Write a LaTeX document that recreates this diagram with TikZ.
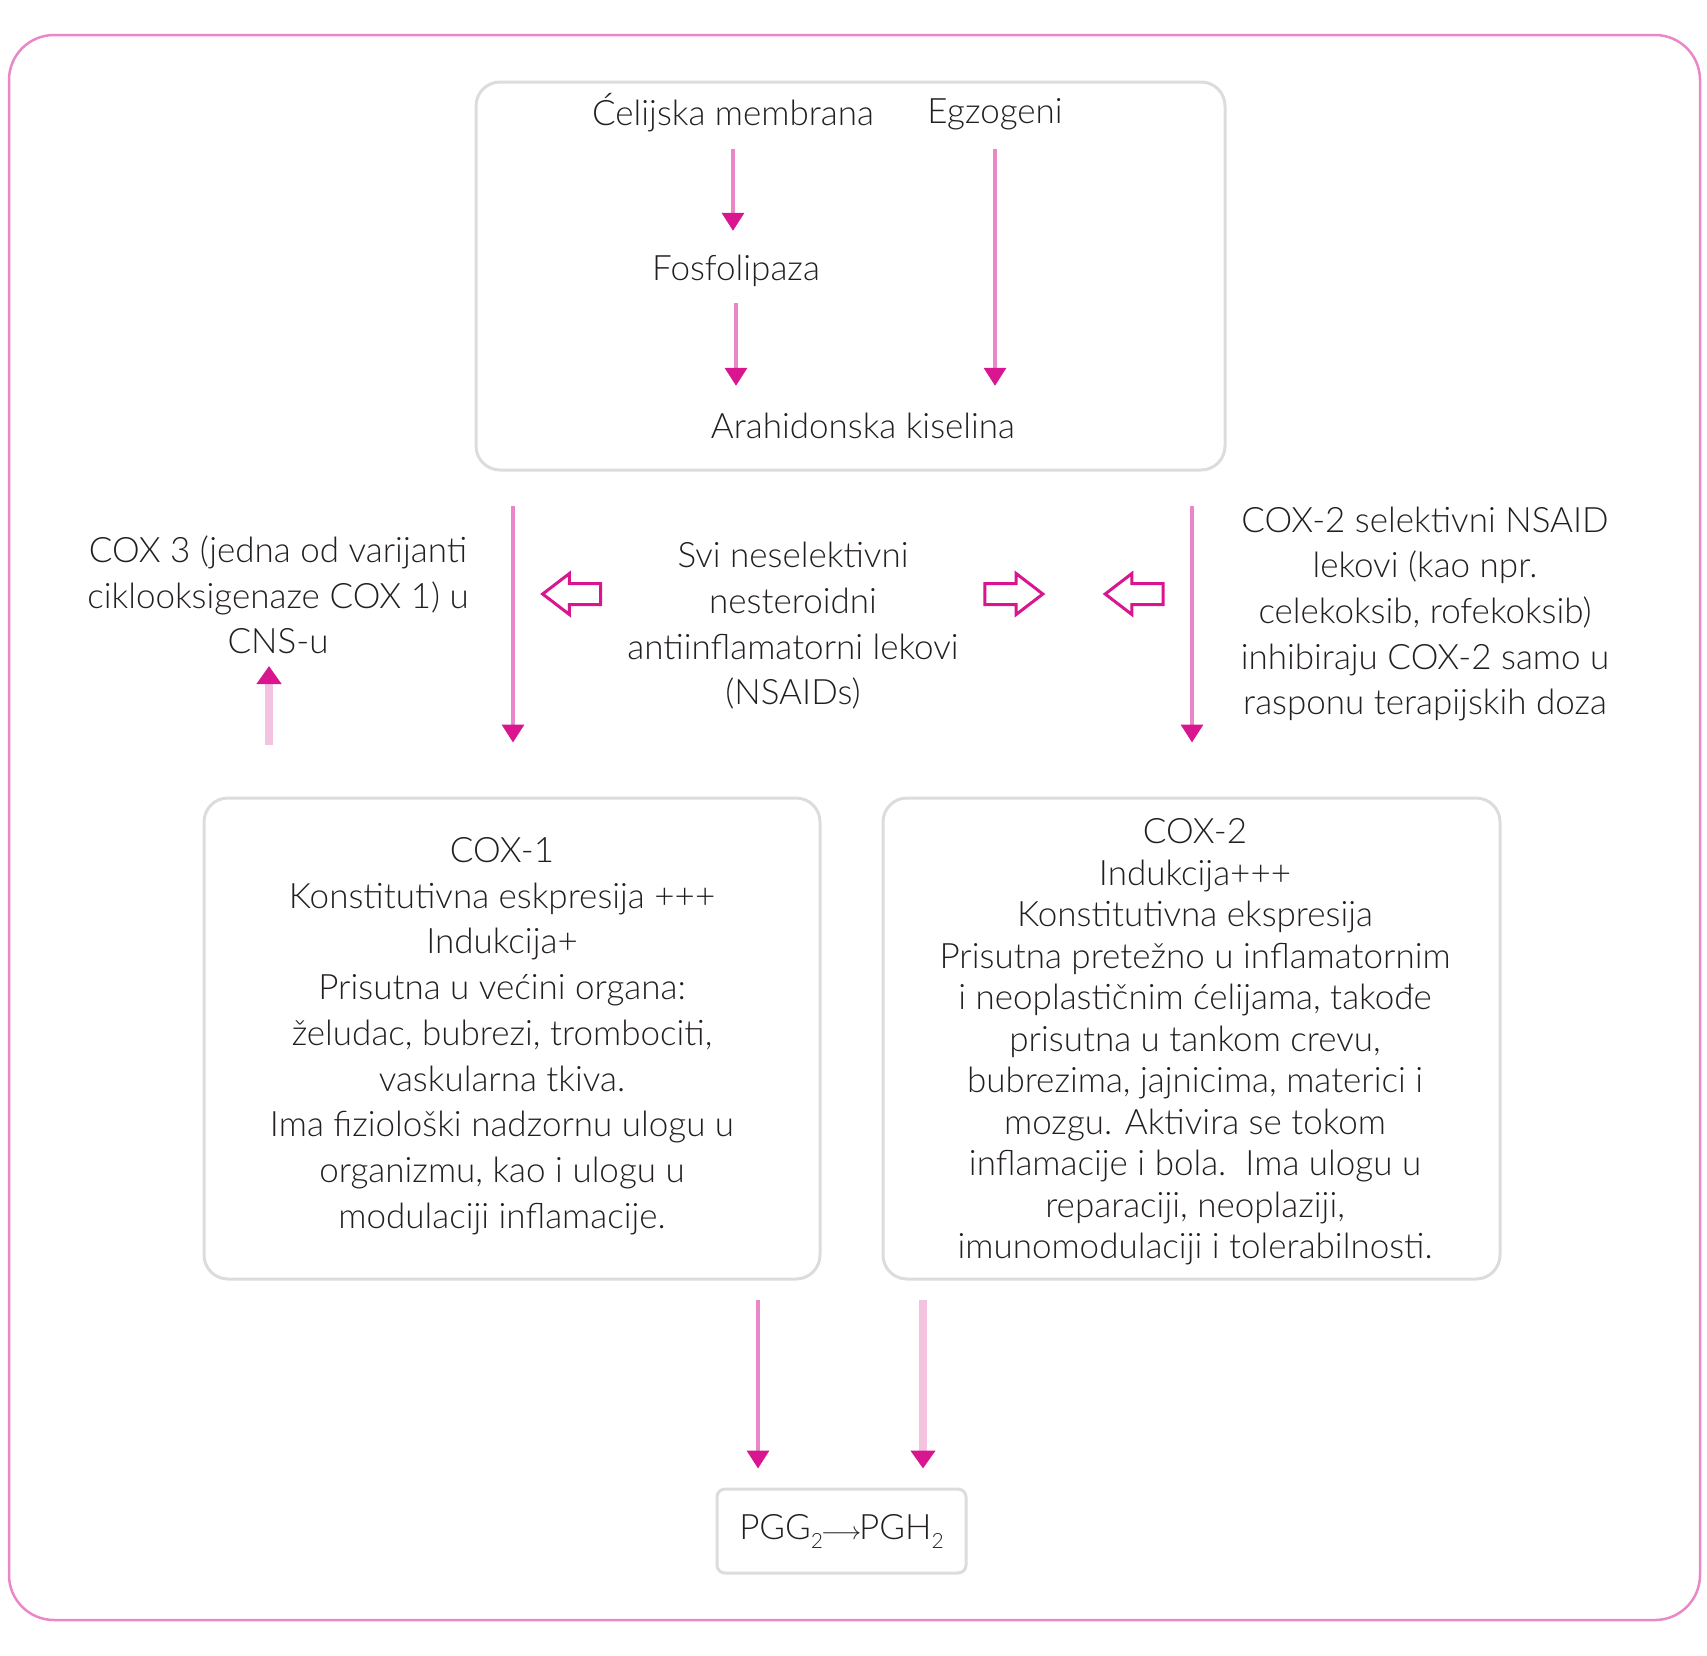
\documentclass[tikz,border=0pt]{standalone}
\usepackage{fontspec}
\setmainfont{Lato Light}
\usetikzlibrary{arrows.meta,shapes.arrows}

\definecolor{framepink}{HTML}{E987C8}
\definecolor{tippink}{HTML}{D9168F}
\definecolor{palepink}{HTML}{F4C3E0}
\definecolor{boxgray}{HTML}{DCDCDC}
\definecolor{txt}{HTML}{231F20}

\tikzset{
    box/.style={draw=boxgray, line width=3, rounded corners=24, text=txt, align=center,
        font=\fontsize{35}{45.7}\selectfont},
    word/.style={text=txt, inner sep=0, text height=24, text depth=8,
        font=\fontsize{35}{45.7}\selectfont},
    para/.style={text=txt, inner sep=0, align=center, font=\fontsize{35}{45.7}\selectfont},
    flow/.style={draw=framepink, line width=3.3, -{Triangle[color=tippink, width=22, length=18]}},
    paleflow/.style={draw=palepink, line width=8, -{Triangle[color=tippink, width=24, length=18]}},
    hollow/.style={single arrow, draw=tippink, line width=3, fill=white, inner sep=9,
        minimum height=58, minimum width=41, single arrow head extend=10, single arrow tip angle=75}
}

\begin{document}
\begin{tikzpicture}[x=1pt, y=-1pt]
    \useasboundingbox (0,0) rectangle (1707,1655);
    \draw[framepink, line width=2.5, rounded corners=45] (9,35) rectangle (1700,1620);

    % upper box
    \node[box, minimum width=749, minimum height=388] (topbox) at (850.5,276) {};
    \node[word] (cm) at (733,117) {Ćelijska membrana};
    \node[word] (egz) at (995,115) {Egzogeni};
    \node[word] (fos) at (736,272) {Fosfolipaza};
    \node[word] (ak) at (863,430) {Arahidonska kiselina};
    \draw[flow, shorten <=16, shorten >=25] (cm.south) -- (cm.south |- fos.north);
    \draw[flow, shorten <=15, shorten >=28] (fos.south) -- (fos.south |- ak.north);
    \draw[flow, shorten <=18, shorten >=28] (egz.south) -- (egz.south |- ak.north);

    % middle row
    \node[para] (cox3) at (278,595) {COX 3 (jedna od varijanti\\ciklooksigenaze COX 1) u\\CNS-u};
    \node[para] (nsaid) at (793,626) {Svi neselektivni\\nesteroidni\\antiinflamatorni lekovi\\(NSAIDs)};
    \node[para] (sel) at (1425,614) {COX-2 selektivni NSAID\\lekovi (kao npr.\\celekoksib, rofekoksib)\\inhibiraju COX-2 samo u\\rasponu terapijskih doza};
    \node[hollow, shape border rotate=180] (ha1) at (578.5,594) {};
    \node[hollow] (ha2) at (1007,594) {};
    \node[hollow, shape border rotate=180] (ha3) at (1141,594) {};

    % enzyme boxes
    \node[box, minimum width=616, minimum height=481] (cox1) at (512,1038.5) {};
    \node[para] (cox1txt) at (502,1036)
        {COX-1\\Konstitutivna eskpresija +++\\Indukcija+\\Prisutna u većini organa:\\želudac, bubrezi, trombociti,\\vaskularna tkiva.\\Ima fiziološki nadzornu ulogu u\\organizmu, kao i ulogu u\\modulaciji inflamacije.};
    \node[box, minimum width=617, minimum height=481] (cox2) at (1191.5,1038.5) {};
    \node[para, font=\fontsize{35}{41.5}\selectfont] (cox2txt) at (1195,1042)
        {COX-2\\Indukcija+++\\Konstitutivna ekspresija\\Prisutna pretežno u inflamatornim\\i neoplastičnim ćelijama, takođe\\prisutna u tankom crevu,\\bubrezima, jajnicima, materici i\\mozgu. Aktivira se tokom\\inflamacije i bola.\ \ Ima ulogu u\\reparaciji, neoplaziji,\\imunomodulaciji i tolerabilnosti.};
    \node[box, rounded corners=8, minimum width=249, minimum height=84] (pgg) at (841.5,1531)
        {PGG\raisebox{-9pt}{\fontsize{21}{21}\selectfont 2}\hspace{-2pt}$\longrightarrow$\hspace{-2pt}PGH\raisebox{-9pt}{\fontsize{21}{21}\selectfont 2}};

    \coordinate (xl) at (513,0);
    \coordinate (xr) at (1192,0);
    \coordinate (xu) at (269,0);
    \coordinate (xb1) at (758,0);
    \coordinate (xb2) at (923,0);
    \draw[flow, shorten <=34, shorten >=54] (xl |- topbox.south) -- (xl |- cox1.north);
    \draw[flow, shorten <=34, shorten >=54] (xr |- topbox.south) -- (xr |- cox2.north);
    \draw[paleflow, shorten <=52] (xu |- cox1.north) -- (xu |- 0,666);
    \draw[flow, shorten <=19, shorten >=19] (xb1 |- cox1.south) -- (xb1 |- pgg.north);
    \draw[paleflow, shorten <=19, shorten >=19] (xb2 |- cox2.south) -- (xb2 |- pgg.north);
\end{tikzpicture}
\end{document}
